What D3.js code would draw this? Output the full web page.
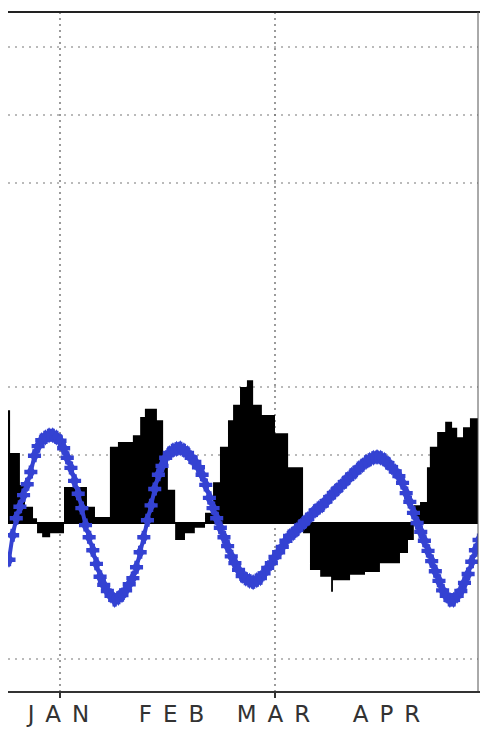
<!DOCTYPE html>
<html><head><meta charset="utf-8">
<script src="https://cdn.jsdelivr.net/npm/d3@7"></script>
<style>html,body{margin:0;padding:0;background:#fff;}svg{display:block;}</style>
</head><body>
<script>
// ---- data ----
const monthLabels = ["JAN", "FEB", "MAR", "APR"];
const monthDates = ["2001-01-01", "2001-02-01", "2001-03-01", "2001-04-01"];
const gridMonths = ["2001-01-01", "2001-03-01"];
const gridValues = [-2, 1, 2, 5, 6, 7];
// black anomaly series: step breakpoints (days from 1 Jan) and values
const anomDays = [-14.3,-13.7,-11.0,-9.6,-7.4,-6.3,-4.9,-2.7,1.1,7.4,9.6,13.7,15.9,20.0,22.0,23.3,26.6,28.3,29.6,31.6,34.3,37.0,39.8,42.0,43.9,46.1,47.5,49.4,51.3,53.0,55.4,59.0,62.6,66.7,68.6,71.4,74.4,74.9,79.6,83.7,87.8,93.3,95.5,97.1,98.8,100.7,101.5,103.5,105.7,107.6,109.0,110.6,112.5,115.0];
const anomValues = [1.66,1.03,0.56,0.24,0.07,-0.15,-0.21,-0.15,0.53,0.24,0.09,1.12,1.19,1.29,1.56,1.68,1.51,0.93,0.49,-0.25,-0.15,-0.07,0.15,0.60,1.12,1.51,1.74,2.00,2.10,1.74,1.59,1.32,0.82,-0.15,-0.69,-0.79,-1.01,-0.84,-0.76,-0.72,-0.59,-0.44,-0.25,0.26,0.31,0.82,1.12,1.34,1.49,1.40,1.26,1.41,1.54,1.54];
// blue daily series, starting at day -14
const blueStartDay = -14;
const blueValues = [-0.54,-0.18,0.07,0.24,0.41,0.57,0.75,0.99,1.13,1.22,1.26,1.29,1.29,1.26,
1.21,1.10,0.96,0.81,0.62,0.43,0.22,-0.03,-0.21,-0.40,-0.60,-0.79,-0.91,-1.00,-1.07,-1.13,-1.10,-1.06,-0.99,-0.90,-0.81,-0.65,-0.43,-0.21,0.04,0.26,0.50,0.71,0.84,0.96,1.03,
1.07,1.09,1.10,1.07,1.03,0.96,0.90,0.82,0.71,0.56,0.37,0.22,0.07,-0.07,-0.21,-0.34,-0.49,-0.59,-0.69,-0.78,-0.82,-0.85,-0.87,-0.84,-0.81,-0.74,-0.66,-0.59,
-0.50,-0.43,-0.35,-0.26,-0.19,-0.15,-0.10,-0.04,0.01,0.06,0.12,0.18,0.22,0.26,0.32,0.38,0.44,0.49,0.54,0.60,0.65,0.71,0.75,0.81,0.85,0.90,0.93,0.96,0.97,0.96,0.93,0.88,0.82,0.76,0.69,0.59,0.44,0.31,0.15,0.00,
-0.13,-0.26,-0.41,-0.56,-0.71,-0.85,-0.99,-1.07,-1.13,-1.13,-1.07,-1.00,-0.88,-0.75,-0.57,-0.40,-0.25];

// ---- layout ----
const W = 480, H = 729;
const L = 8, R = 478, T = 12, B = 692;
const DAY = 86400000;
const base = Date.UTC(2001, 0, 1);
const toDate = d => new Date(base + d * DAY);

const x = d3.scaleUtc().domain([toDate(-14.27), toDate(114.71)]).range([L, R]);
const y = d3.scaleLinear().domain([-2.485, 7.515]).range([B, T]);

const svg = d3.select("body").append("svg").attr("width", W).attr("height", H);
svg.append("defs").append("clipPath").attr("id", "clip")
  .append("rect").attr("x", L).attr("y", T).attr("width", R - L).attr("height", B - T);

const plot = svg.append("g").attr("clip-path", "url(#clip)");

// gridlines
plot.selectAll(".hg").data(gridValues).join("line")
  .attr("x1", L).attr("x2", R).attr("y1", d => y(d)).attr("y2", d => y(d))
  .attr("stroke", "#777").attr("stroke-width", 1.2).attr("stroke-dasharray", "2,5");
plot.selectAll(".vg").data(gridMonths).join("line")
  .attr("x1", d => x(new Date(d))).attr("x2", d => x(new Date(d)))
  .attr("y1", T).attr("y2", B)
  .attr("stroke", "#666").attr("stroke-width", 1.3).attr("stroke-dasharray", "2,4");

// black anomaly area
const anom = anomDays.map((d, i) => ({ t: toDate(d), v: anomValues[i] }));
plot.append("path").datum(anom)
  .attr("d", d3.area().curve(d3.curveStepAfter).x(d => x(d.t)).y0(y(0)).y1(d => y(d.v)))
  .attr("fill", "#000");

// zero line
plot.append("line").attr("x1", L).attr("x2", W).attr("y1", y(0)).attr("y2", y(0))
  .attr("stroke", "#000").attr("stroke-width", 2);

// blue series
const blue = blueValues.map((v, i) => ({ t: toDate(blueStartDay + i), v }));
const blueCol = "#3442d2";
plot.append("path").datum(blue)
  .attr("d", d3.line().x(d => x(d.t)).y(d => y(d.v)))
  .attr("fill", "none").attr("stroke", blueCol).attr("stroke-width", 4);
const cross = d3.symbol().type(d3.symbolCross).size(95);
const diamond = d3.symbol().type(d3.symbolDiamond).size(75);
const mk = plot.selectAll(".mk").data(blue).join("g")
  .attr("transform", d => `translate(${x(d.t)},${y(d.v)})`);
mk.append("path").attr("d", cross()).attr("fill", blueCol);
mk.append("path").attr("d", diamond()).attr("fill", blueCol);

// borders
svg.append("line").attr("x1", L).attr("x2", W).attr("y1", T).attr("y2", T)
  .attr("stroke", "#222").attr("stroke-width", 2);
svg.append("line").attr("x1", R).attr("x2", R).attr("y1", T).attr("y2", B)
  .attr("stroke", "#555").attr("stroke-width", 1);

// bottom axis
const ax = svg.append("g").attr("transform", `translate(0,${B})`);
ax.append("line").attr("x1", L).attr("x2", W).attr("y1", 0).attr("y2", 0)
  .attr("stroke", "#333").attr("stroke-width", 2);
ax.selectAll(".tk").data(gridMonths).join("line")
  .attr("x1", d => x(new Date(d))).attr("x2", d => x(new Date(d)))
  .attr("y1", 0).attr("y2", 6).attr("stroke", "#333").attr("stroke-width", 2);
ax.selectAll(".lb").data(monthDates).join("text")
  .attr("x", d => x(new Date(d)) + 4).attr("y", 30)
  .attr("text-anchor", "middle")
  .attr("font-family", "DejaVu Sans, sans-serif").attr("font-size", 23)
  .attr("letter-spacing", 11).attr("fill", "#333")
  .text((d, i) => monthLabels[i]);
</script>
</body></html>
